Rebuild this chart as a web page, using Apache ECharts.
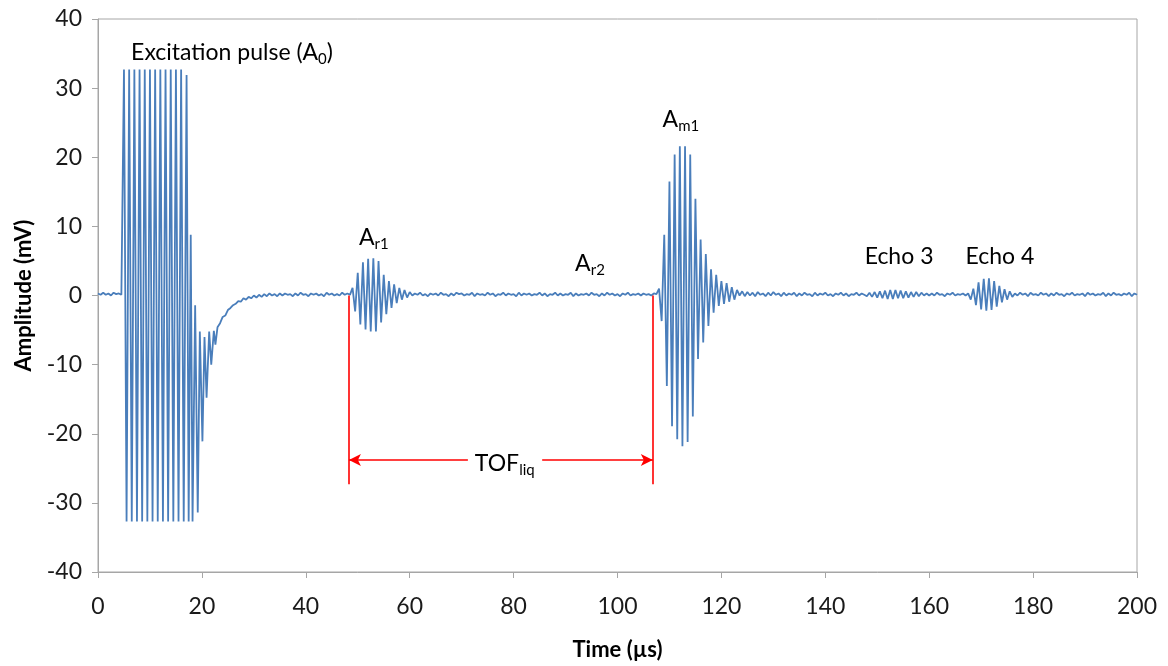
<!DOCTYPE html>
<html>
<head>
<meta charset="utf-8">
<script src="https://cdn.jsdelivr.net/npm/echarts@6/dist/echarts.min.js"></script>
<style>
html,body{margin:0;padding:0;background:#ffffff;}
#chart{width:1168px;height:666px;}
</style>
</head>
<body>
<div id="chart"></div>
<script>
// ---------------- DATA ----------------
// Axis ranges / ticks
const xMin = 0, xMax = 200, xInterval = 20;       // Time (µs)
const yMin = -40, yMax = 40, yInterval = 10;      // Amplitude (mV)

// sampling step (µs) of the uniformly sampled segments below
const T_STEP = 0.5;

// 0 – 4.5 µs : pre-trigger baseline
const preTriggerStart = 0;
const preTrigger = [0.3,0.1,0.4,0.1,0.3,0.0,0.4,0.2,0.3,0.1];

// 4.8 – 23 µs : clipped excitation pulse and its ring-down  [time, amplitude]
const excitation = [
  [4.8,0.2],
  [5.0,32.7],[5.2,32.7],[5.5,-32.7],[5.7,-32.7],
  [6.0,32.7],[6.2,32.7],[6.5,-32.7],[6.7,-32.7],
  [7.0,32.7],[7.2,32.7],[7.5,-32.7],[7.7,-32.7],
  [8.0,32.7],[8.2,32.7],[8.5,-32.7],[8.7,-32.7],
  [9.0,32.7],[9.2,32.7],[9.5,-32.7],[9.7,-32.7],
  [10.0,32.7],[10.2,32.7],[10.5,-32.7],[10.7,-32.7],
  [11.0,32.7],[11.2,32.7],[11.5,-32.7],[11.7,-32.7],
  [12.0,32.7],[12.2,32.7],[12.5,-32.7],[12.7,-32.7],
  [13.0,32.7],[13.2,32.7],[13.5,-32.7],[13.7,-32.7],
  [14.0,32.7],[14.2,32.7],[14.5,-32.7],[14.7,-32.7],
  [15.0,32.7],[15.2,32.7],[15.5,-32.7],[15.7,-32.7],
  [16.0,32.7],[16.2,32.7],[16.5,-32.7],[16.7,-32.7],
  [17.05,31.9],[17.45,-32.7],[17.6,-32.7],[17.85,8.8],
  [18.2,-32.7],[18.3,-32.6],[18.7,-1.4],[19.2,-31.4],
  [19.6,-5.2],[20.1,-21.1],[20.5,-6.0],[20.9,-14.8],
  [21.4,-5.2],[21.8,-10.0],[22.3,-5.1],[22.6,-7.1],[23.0,-4.6]
];

// 23.5 – 48 µs : recovery to baseline
const ringDownStart = 23.5;
const ringDown = [
  -4.0,-3.1,-2.9,-2.1,-1.8,-1.4,-1.2,-0.8,-0.9,-0.4,
  -0.6,-0.2,-0.4,0.0,-0.3,0.1,-0.2,0.2,-0.1,0.3,
  0.0,0.2,-0.1,0.3,0.0,0.3,0.1,0.2,-0.1,0.3,
  0.0,0.4,0.1,0.2,-0.1,0.3,0.1,0.3,0.0,0.2,
  -0.1,0.4,0.1,0.3,0.0,0.2,0.0,0.4,0.1,0.3
];

// 48.5 – 60 µs : first reflection A_r1
const echoAr1Start = 48.5;
const echoAr1 = [0.1,1.1,-2.3,3.3,-4.2,4.8,-4.9,5.3,-5.2,5.4,-5.2,5.0,
                 -3.9,3.0,-2.7,2.1,-1.8,1.6,-1.1,1.1,-0.6,0.8,-0.3,0.5];

// 60.5 – 107 µs : liquid path (A_r2 region)
const liquidGapStart = 60.5;
const liquidGap = [
  0.0,0.3,0.1,0.4,0.0,0.2,-0.1,0.3,0.1,0.3,
  0.0,0.4,0.1,0.2,-0.1,0.3,0.0,0.4,0.2,0.3,
  0.0,0.2,0.1,0.4,-0.1,0.3,0.1,0.2,0.0,0.4,
  0.1,0.3,-0.1,0.2,0.1,0.4,0.0,0.3,0.1,0.2,
  -0.1,0.4,0.0,0.3,0.1,0.3,0.0,0.2,0.1,0.4,
  0.0,0.3,-0.1,0.2,0.1,0.4,0.0,0.3,0.0,0.2,
  0.1,0.4,-0.1,0.3,0.0,0.2,0.1,0.3,0.0,0.4,
  0.1,0.2,-0.1,0.3,0.0,0.4,0.1,0.3,0.0,0.2,
  -0.1,0.3,0.1,0.4,0.0,0.2,0.1,0.3,0.0,0.3,
  0.1,0.2,0.0,0.3
];

// 107.5 – 123 µs : measurement echo A_m1
const echoAm1Start = 107.5;
const echoAm1 = [
  0.2,1.0,-3.7,8.8,-13.1,16.5,-18.9,20.4,-20.8,21.6,
  -21.8,21.6,-21.2,20.4,-17.5,14.0,-9.2,8.1,-6.8,6.0,
  -4.4,3.8,-2.5,3.0,-1.5,2.1,-1.2,1.8,-0.9,1.2,
  -0.6,0.8
];

// 123.5 – 147.5 µs
const afterAm1Start = 123.5;
const afterAm1 = [
  0.0,0.6,-0.1,0.5,0.0,0.4,-0.1,0.5,0.1,0.3,
  -0.1,0.4,0.0,0.5,0.1,0.3,-0.1,0.4,0.0,0.3,
  0.1,0.4,-0.1,0.3,0.0,0.4,0.1,0.2,-0.1,0.4,
  0.0,0.3,0.1,0.4,0.0,0.2,-0.1,0.3,0.1,0.4,
  0.0,0.3,-0.1,0.2,0.1,0.4,0.0,0.3,0.1
];

// 148 – 160 µs : Echo 3
const echo3Start = 148.0;
const echo3 = [
  -0.1,0.4,-0.2,0.5,-0.3,0.6,-0.4,0.7,-0.5,0.8,
  -0.5,0.8,-0.4,0.7,-0.4,0.6,-0.3,0.5,-0.2,0.5,
  -0.1,0.4,0.0,0.3,0.0
];

// 160.5 – 167 µs
const gapNoiseStart = 160.5;
const gapNoise = [0.3,0.0,0.4,0.1,0.2,-0.1,0.3,0.1,0.4,0.0,0.2,0.1,0.3,0.0];

// 167.5 – 176 µs : Echo 4
const echo4Start = 167.5;
const echo4 = [0.3,-0.6,1.0,-1.4,1.9,-2.0,2.4,-2.2,2.5,-2.1,2.1,-1.6,1.4,-1.0,0.9,-0.6,0.6,-0.2];

// 176.5 – 200 µs
const endNoiseStart = 176.5;
const endNoise = [
  0.3,0.0,0.4,0.1,0.3,-0.1,0.4,0.1,0.2,0.0,
  0.4,0.1,0.3,-0.1,0.3,0.0,0.4,0.1,0.2,-0.1,
  0.3,0.1,0.4,0.0,0.2,0.1,0.3,-0.1,0.4,0.1,
  0.3,0.0,0.2,0.1,0.4,-0.1,0.3,0.0,0.4,0.1,
  0.2,0.0,0.3,0.1,0.4,-0.1,0.3,0.1
];

// Time-of-flight markers (µs) and levels (mV)
const tofStart = 48.3, tofEnd = 106.8;
const tofMarkerBottom = -27.3, tofArrowLevel = -23.8;
const tofGapLeft = 71.2, tofGapRight = 85.5;

// Annotation texts [label rich-text, time, amplitude]
const annotations = [
  ['{m|Excitation pulse (A}{s|0}{m|)}', 25.8, 35.1],
  ['{m|A}{s|r1}', 53.1, 8.4],
  ['{m|A}{s|r2}', 94.7, 4.6],
  ['{m|A}{s|m1}', 112.2, 25.4],
  ['{m|Echo 3}', 154.2, 5.7],
  ['{m|Echo 4}', 173.6, 5.7],
  ['{m|TOF}{s|liq}', 78.3, -24.3]
];

// ---------------- BUILD ----------------
function seg(start, vals) { return vals.map((v, i) => [start + i * T_STEP, v]); }
const waveform = [].concat(
  seg(preTriggerStart, preTrigger),
  excitation,
  seg(ringDownStart, ringDown),
  seg(echoAr1Start, echoAr1),
  seg(liquidGapStart, liquidGap),
  seg(echoAm1Start, echoAm1),
  seg(afterAm1Start, afterAm1),
  seg(echo3Start, echo3),
  seg(gapNoiseStart, gapNoise),
  seg(echo4Start, echo4),
  seg(endNoiseStart, endNoise)
);

const FONT = 'Lato';
const axisGray = '#a6a6a6';
const richStyles = {
  m: {fontFamily: FONT, fontSize: 23, color: '#000', lineHeight: 28, verticalAlign: 'middle'},
  s: {fontFamily: FONT, fontSize: 15, color: '#000', lineHeight: 20, verticalAlign: 'bottom'}
};

const chart = echarts.init(document.getElementById('chart'), null, {renderer: 'canvas'});
chart.setOption({
  animation: false,
  backgroundColor: '#ffffff',
  grid: {left: 98, right: 31, top: 19, bottom: 93, show: true, borderColor: axisGray, borderWidth: 1, backgroundColor: 'transparent'},
  xAxis: {
    type: 'value', min: xMin, max: xMax, interval: xInterval,
    name: 'Time (µs)', nameLocation: 'middle', nameGap: 67,
    nameTextStyle: {fontFamily: FONT, fontSize: 22, fontWeight: 'bold', color: '#000'},
    axisLine: {show: true, onZero: false, lineStyle: {color: axisGray, width: 1}},
    axisTick: {show: true, inside: false, length: 6, lineStyle: {color: axisGray}},
    axisLabel: {fontFamily: FONT, fontSize: 23, color: '#1a1a1a', margin: 23},
    splitLine: {show: false}
  },
  yAxis: {
    type: 'value', min: yMin, max: yMax, interval: yInterval,
    name: 'Amplitude (mV)', nameLocation: 'middle', nameGap: 63, nameRotate: 90,
    nameTextStyle: {fontFamily: FONT, fontSize: 22, fontWeight: 'bold', color: '#000'},
    axisLine: {show: true, onZero: false, lineStyle: {color: axisGray, width: 1}},
    axisTick: {show: true, inside: false, length: 6, lineStyle: {color: axisGray}},
    axisLabel: {fontFamily: FONT, fontSize: 23, color: '#1a1a1a', margin: 16},
    splitLine: {show: false}
  },
  series: [{
    type: 'line',
    data: waveform,
    showSymbol: false,
    symbol: 'none',
    sampling: null,
    lineStyle: {color: '#4a7ebb', width: 1.8},
    itemStyle: {color: '#4a7ebb'},
    z: 2,
    markLine: {
      silent: true,
      animation: false,
      symbol: ['none', 'none'],
      label: {show: false},
      lineStyle: {color: '#ff0000', width: 1.6, type: 'solid'},
      emphasis: {disabled: true},
      data: [
        [{coord: [tofStart, 0]}, {coord: [tofStart, tofMarkerBottom]}],
        [{coord: [tofEnd, 0]}, {coord: [tofEnd, tofMarkerBottom]}],
        [{coord: [tofGapLeft, tofArrowLevel], symbol: 'none'}, {coord: [tofStart, tofArrowLevel], symbol: 'arrow', symbolSize: [9, 12]}],
        [{coord: [tofGapRight, tofArrowLevel], symbol: 'none'}, {coord: [tofEnd, tofArrowLevel], symbol: 'arrow', symbolSize: [9, 12]}]
      ]
    },
    markPoint: {
      silent: true,
      animation: false,
      symbol: 'rect',
      symbolSize: 1,
      itemStyle: {color: 'rgba(0,0,0,0)'},
      data: annotations.map(a => ({
        coord: [a[1], a[2]],
        label: {show: true, position: 'inside', formatter: a[0], rich: richStyles}
      }))
    }
  }]
});
</script>
</body>
</html>
